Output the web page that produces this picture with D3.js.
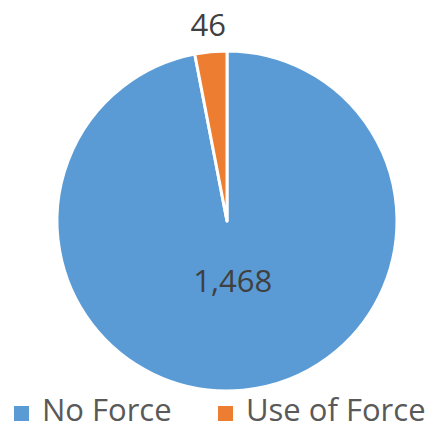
<!DOCTYPE html>
<html>
<head>
<meta charset="utf-8">
<script src="https://cdn.jsdelivr.net/npm/d3@7"></script>
<style>
body { margin: 0; background: #fff; }
</style>
</head>
<body>
<div id="chart"></div>
<script>
var w = 437,
    h = 429;

// data
var categories = ["No Force", "Use of Force"];
var values = [1468, 46];
var colors = ["#5B9BD5", "#ED7D31"];

var data = categories.map(function(c, i) { return { name: c, n: values[i] }; });

var svg = d3.select("#chart")
    .append("svg")
    .attr("width", w)
    .attr("height", h);

var cx = 227, cy = 221, r = 170;

var pie = d3.pie()
    .sort(null)
    .value(function(d) { return d.n; });

var arc = d3.arc().innerRadius(0).outerRadius(r);
var outerLabel = d3.arc().innerRadius(197).outerRadius(197);
var innerLabel = d3.arc().innerRadius(60).outerRadius(60);

var g = svg.append("g")
    .attr("transform", "translate(" + cx + "," + cy + ")");

var arcs = pie(data);

g.selectAll(".slice")
    .data(arcs)
    .enter()
    .append("path")
    .attr("class", "slice")
    .attr("d", arc)
    .attr("fill", function(d, i) { return colors[i]; })
    .attr("stroke", "#fff")
    .attr("stroke-width", 3)
    .attr("stroke-linejoin", "round");

var fmt = d3.format(",");

g.selectAll(".lbl")
    .data(arcs)
    .enter()
    .append("text")
    .attr("class", "lbl")
    .attr("transform", function(d, i) {
        var p = (i == 0 ? innerLabel : outerLabel).centroid(d);
        return "translate(" + p[0] + "," + p[1] + ")";
    })
    .attr("text-anchor", "middle")
    .attr("dy", "0.36em")
    .attr("font-family", "Open Sans, sans-serif")
    .attr("font-size", "31px")
    .attr("fill", "#404040")
    .text(function(d) { return fmt(d.data.n); });

// legend
var legX = [14, 218];
var leg = svg.selectAll(".leg")
    .data(data)
    .enter()
    .append("g")
    .attr("class", "leg")
    .attr("transform", function(d, i) { return "translate(" + legX[i] + ",406)"; });

leg.append("rect")
    .attr("width", 15)
    .attr("height", 15)
    .attr("fill", function(d, i) { return colors[i]; });

leg.append("text")
    .attr("x", 28)
    .attr("y", 15)
    .attr("font-family", "Open Sans, sans-serif")
    .attr("font-size", "31px")
    .attr("fill", "#595959")
    .text(function(d) { return d.name; });
</script>
</body>
</html>
